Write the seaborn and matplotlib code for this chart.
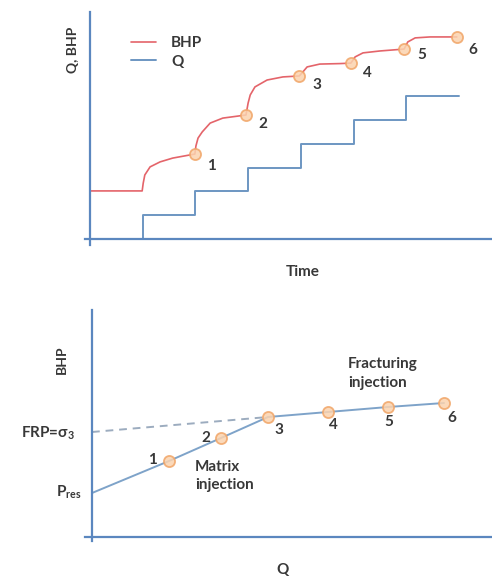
import matplotlib
matplotlib.use('Agg')
import matplotlib.pyplot as plt
import seaborn as sns
import pandas as pd

# top panel: step-rate test vs time
q_time = [1, 1, 2, 3, 4, 5, 6, 7]
q_rate = [0, 1, 2, 3, 4, 5, 6, 6]

bhp_time = [0, 0.99, 1.01, 1.04, 1.14, 1.33, 1.57, 1.99,
            2.01, 2.05, 2.13, 2.28, 2.52, 2.96,
            3.00, 3.04, 3.13, 3.36, 3.66, 3.97,
            4.02, 4.12, 4.36, 4.74, 4.95,
            5.03, 5.18, 5.50, 5.96,
            6.03, 6.17, 6.45, 6.96]
bhp_val = [2.02, 2.02, 2.35, 2.69, 3.03, 3.24, 3.40, 3.57,
           3.91, 4.24, 4.50, 4.87, 5.08, 5.21,
           5.71, 6.05, 6.39, 6.68, 6.81, 6.85,
           6.97, 7.23, 7.35, 7.37, 7.39,
           7.65, 7.82, 7.90, 7.98,
           8.28, 8.45, 8.49, 8.49]

pt_time = [1.99, 2.96, 3.97, 4.95, 5.96, 6.96]
pt_bhp = [3.57, 5.21, 6.85, 7.39, 7.98, 8.49]
pt_labels = ['1', '2', '3', '4', '5', '6']
lab_time = [2.30, 3.28, 4.31, 5.26, 6.30, 7.27]
lab_bhp = [3.07, 4.83, 6.47, 6.97, 7.73, 7.94]

# bottom panel: BHP vs Q
q_pts = [0.0, 1.54, 2.58, 3.52, 4.72, 5.92, 7.04]
bhp_pts = [2.2, 3.8, 4.95, 6.0, 6.25, 6.5, 6.7]
frp = 5.25
lab_q = [1.2, 2.28, 3.74, 4.82, 5.94, 7.2]
lab_b = [3.85, 4.95, 5.35, 5.6, 5.75, 5.95]

sns.set_style('white')
plt.rcParams['font.family'] = ['Lato', 'DejaVu Sans']
plt.rcParams['mathtext.default'] = 'regular'

axis_col = '#5b87bf'
red = '#e4646a'
blue = '#6d96c2'
txt = '#383838'
mk = dict(marker='o', markersize=8, markerfacecolor='#fbd3ae', markeredgecolor='#f1a567',
          markeredgewidth=1.3, linestyle='none', alpha=0.85)

fig = plt.figure(figsize=(4.92, 5.81), dpi=100)
W, H = 492, 581

def px_axes(x0, y_top, x1, y_bot):
    return fig.add_axes([x0 / W, 1 - y_bot / H, (x1 - x0) / W, (y_bot - y_top) / H])

# top axes: origin at px (90, 239), axis lines overshoot a few px
ax1 = px_axes(85, 12, 492, 245)
df_q = pd.DataFrame({'t': q_time, 'v': q_rate})
df_b = pd.DataFrame({'t': bhp_time, 'v': bhp_val})
sns.lineplot(data=df_b, x='t', y='v', ax=ax1, color=red, lw=1.2, sort=False,
             estimator=None, label='BHP')
sns.lineplot(data=df_q, x='t', y='v', ax=ax1, color=blue, lw=1.4, sort=False,
             estimator=None, drawstyle='steps-post', label='Q')
ax1.plot(pt_time, pt_bhp, **mk)
for x, y, s in zip(lab_time, lab_bhp, pt_labels):
    ax1.text(x, y, s, ha='center', va='center', fontsize=11, color=txt, fontweight='bold')
ax1.set_xlim(-5 / 52.7, 402 / 52.7)
ax1.set_ylim(-6 / 23.8, 227 / 23.8)
leg = ax1.legend(loc='upper left', bbox_to_anchor=(0.08, 0.955), frameon=False,
                 handlelength=1.6, handletextpad=1.0, labelspacing=0.3, fontsize=11)
for t in leg.get_texts():
    t.set_color(txt)
    t.set_fontweight('bold')

# bottom axes: origin at px (92, 537)
ax2 = px_axes(85, 310, 492, 541)
df_l = pd.DataFrame({'q': q_pts, 'b': bhp_pts})
sns.lineplot(data=df_l, x='q', y='b', ax=ax2, color='#7ea3c9', lw=1.4, sort=False,
             estimator=None)
ax2.plot([0, q_pts[3]], [frp, bhp_pts[3]], color='#9cacbf', lw=1.4, dashes=(4, 3))
ax2.plot(q_pts[1:], bhp_pts[1:], **mk)
for x, y, s in zip(lab_q, lab_b, pt_labels):
    ax2.text(x, y, s, ha='center', va='center', fontsize=11, color=txt, fontweight='bold')
ax2.text(2.06, 3.05, 'Matrix\ninjection', ha='left', va='center', fontsize=11,
         color=txt, fontweight='bold', linespacing=1.45)
ax2.text(5.12, 8.18, 'Fracturing\ninjection', ha='left', va='center', fontsize=11,
         color=txt, fontweight='bold', linespacing=1.45)
ax2.set_xlim(-7 / 50, 400 / 50)
ax2.set_ylim(-4 / 20, 227 / 20)

for ax in (ax1, ax2):
    for side in ('top', 'right'):
        ax.spines[side].set_visible(False)
    for side in ('left', 'bottom'):
        ax.spines[side].set_color(axis_col)
        ax.spines[side].set_linewidth(1.6)
        ax.spines[side].set_position(('data', 0))
    ax.set_xticks([])
    ax.set_yticks([])
    ax.set_xlabel('')
    ax.set_ylabel('')

fig.text(73 / W, 1 - 50 / H, 'Q, BHP', rotation=90, ha='center', va='center',
         fontsize=10, color=txt, fontweight='bold')
fig.text(303 / W, 1 - 272 / H, 'Time', ha='center', va='center', fontsize=11,
         color=txt, fontweight='bold')
fig.text(62 / W, 1 - 360 / H, 'BHP', rotation=90, ha='center', va='center',
         fontsize=10, color=txt, fontweight='bold')
fig.text(283 / W, 1 - 570 / H, 'Q', ha='center', va='center', fontsize=11,
         color=txt, fontweight='bold')
fig.text(75 / W, 1 - 433 / H, r'FRP=$\sigma_3$', ha='right', va='center', fontsize=11,
         color=txt, fontweight='bold')
fig.text(82 / W, 1 - 492 / H, r'P$_{res}$', ha='right', va='center', fontsize=11,
         color=txt, fontweight='bold')

fig.savefig('out.png', dpi=100)
